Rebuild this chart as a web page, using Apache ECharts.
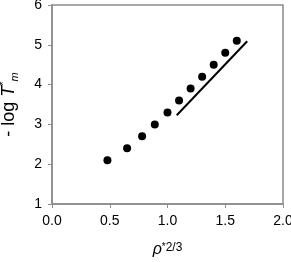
<!DOCTYPE html>
<html><head><meta charset="utf-8">
<script src="https://cdn.jsdelivr.net/npm/echarts@6/dist/echarts.min.js"></script>
<style>html,body{margin:0;padding:0;background:#fff}#c{width:291px;height:262px}</style>
</head><body><div id="c"></div>
<script>
const xValues = [0.48, 0.65, 0.78, 0.89, 1.0, 1.1, 1.2, 1.3, 1.4, 1.5, 1.6];
const yValues = [2.1, 2.4, 2.7, 3.0, 3.3, 3.6, 3.9, 4.2, 4.5, 4.8, 5.1];
const lineX = [1.08, 1.69];
const lineY = [3.23, 5.09];
const xTicks = [0.0, 0.5, 1.0, 1.5, 2.0];
const yTicks = [1, 2, 3, 4, 5, 6];

const chart = echarts.init(document.getElementById('c'));
const axisGray = '#8c8c8c';
const font = 'Liberation Sans, Arial, sans-serif';
chart.setOption({
  animation: false,
  grid: {left: 52, right: 8, top: 5, bottom: 58, outerBoundsMode: 'none', containLabel: false, show: true, borderColor: axisGray, borderWidth: 1.5, backgroundColor: 'transparent'},
  xAxis: {
    type: 'value', min: xTicks[0], max: xTicks[xTicks.length-1], interval: 0.5,
    axisLine: {lineStyle: {color: axisGray, width: 1.5}},
    axisTick: {show: true, length: 4, lineStyle: {color: axisGray}},
    splitLine: {show: false},
    axisLabel: {color: '#000', fontSize: 14, fontFamily: font, margin: 10, formatter: v => v.toFixed(1)},
    name: '{i|ρ}{s|*}{sup|2/3}', nameLocation: 'middle', nameGap: 38,
    nameTextStyle: {rich: {
      i: {fontSize: 16, fontStyle: 'italic', fontFamily: font, color: '#000', verticalAlign: 'bottom', lineHeight: 16},
      s: {fontSize: 10, fontFamily: font, color: '#000', verticalAlign: 'top', lineHeight: 16},
      sup: {fontSize: 12, fontFamily: font, color: '#000', verticalAlign: 'top', lineHeight: 16}
    }}
  },
  yAxis: {
    type: 'value', min: yTicks[0], max: yTicks[yTicks.length-1], interval: 1,
    axisLine: {show: true, lineStyle: {color: axisGray, width: 1.5}},
    axisTick: {show: true, length: 4, lineStyle: {color: axisGray}},
    splitLine: {show: false},
    axisLabel: {color: '#000', fontSize: 14, fontFamily: font, margin: 10},
    name: '{n|- log }{i|T}{s|*}{m|m}', nameLocation: 'middle', nameGap: 32, nameRotate: 90,
    nameTextStyle: {rich: {
      n: {fontSize: 18, fontFamily: font, color: '#000', lineHeight: 22},
      i: {fontSize: 18, fontStyle: 'italic', fontFamily: font, color: '#000', lineHeight: 22},
      s: {fontSize: 11, fontFamily: font, color: '#000', verticalAlign: 'top', lineHeight: 22},
      m: {fontSize: 11, fontStyle: 'italic', fontFamily: font, color: '#000', verticalAlign: 'bottom', lineHeight: 22}
    }}
  },
  series: [
    {type: 'scatter', data: xValues.map((x, i) => [x, yValues[i]]), symbol: 'circle', symbolSize: 8, itemStyle: {color: '#000', opacity: 1}},
    {type: 'line', data: lineX.map((x, i) => [x, lineY[i]]), symbol: 'none', lineStyle: {color: '#000', width: 2}}
  ]
});
</script></body></html>
